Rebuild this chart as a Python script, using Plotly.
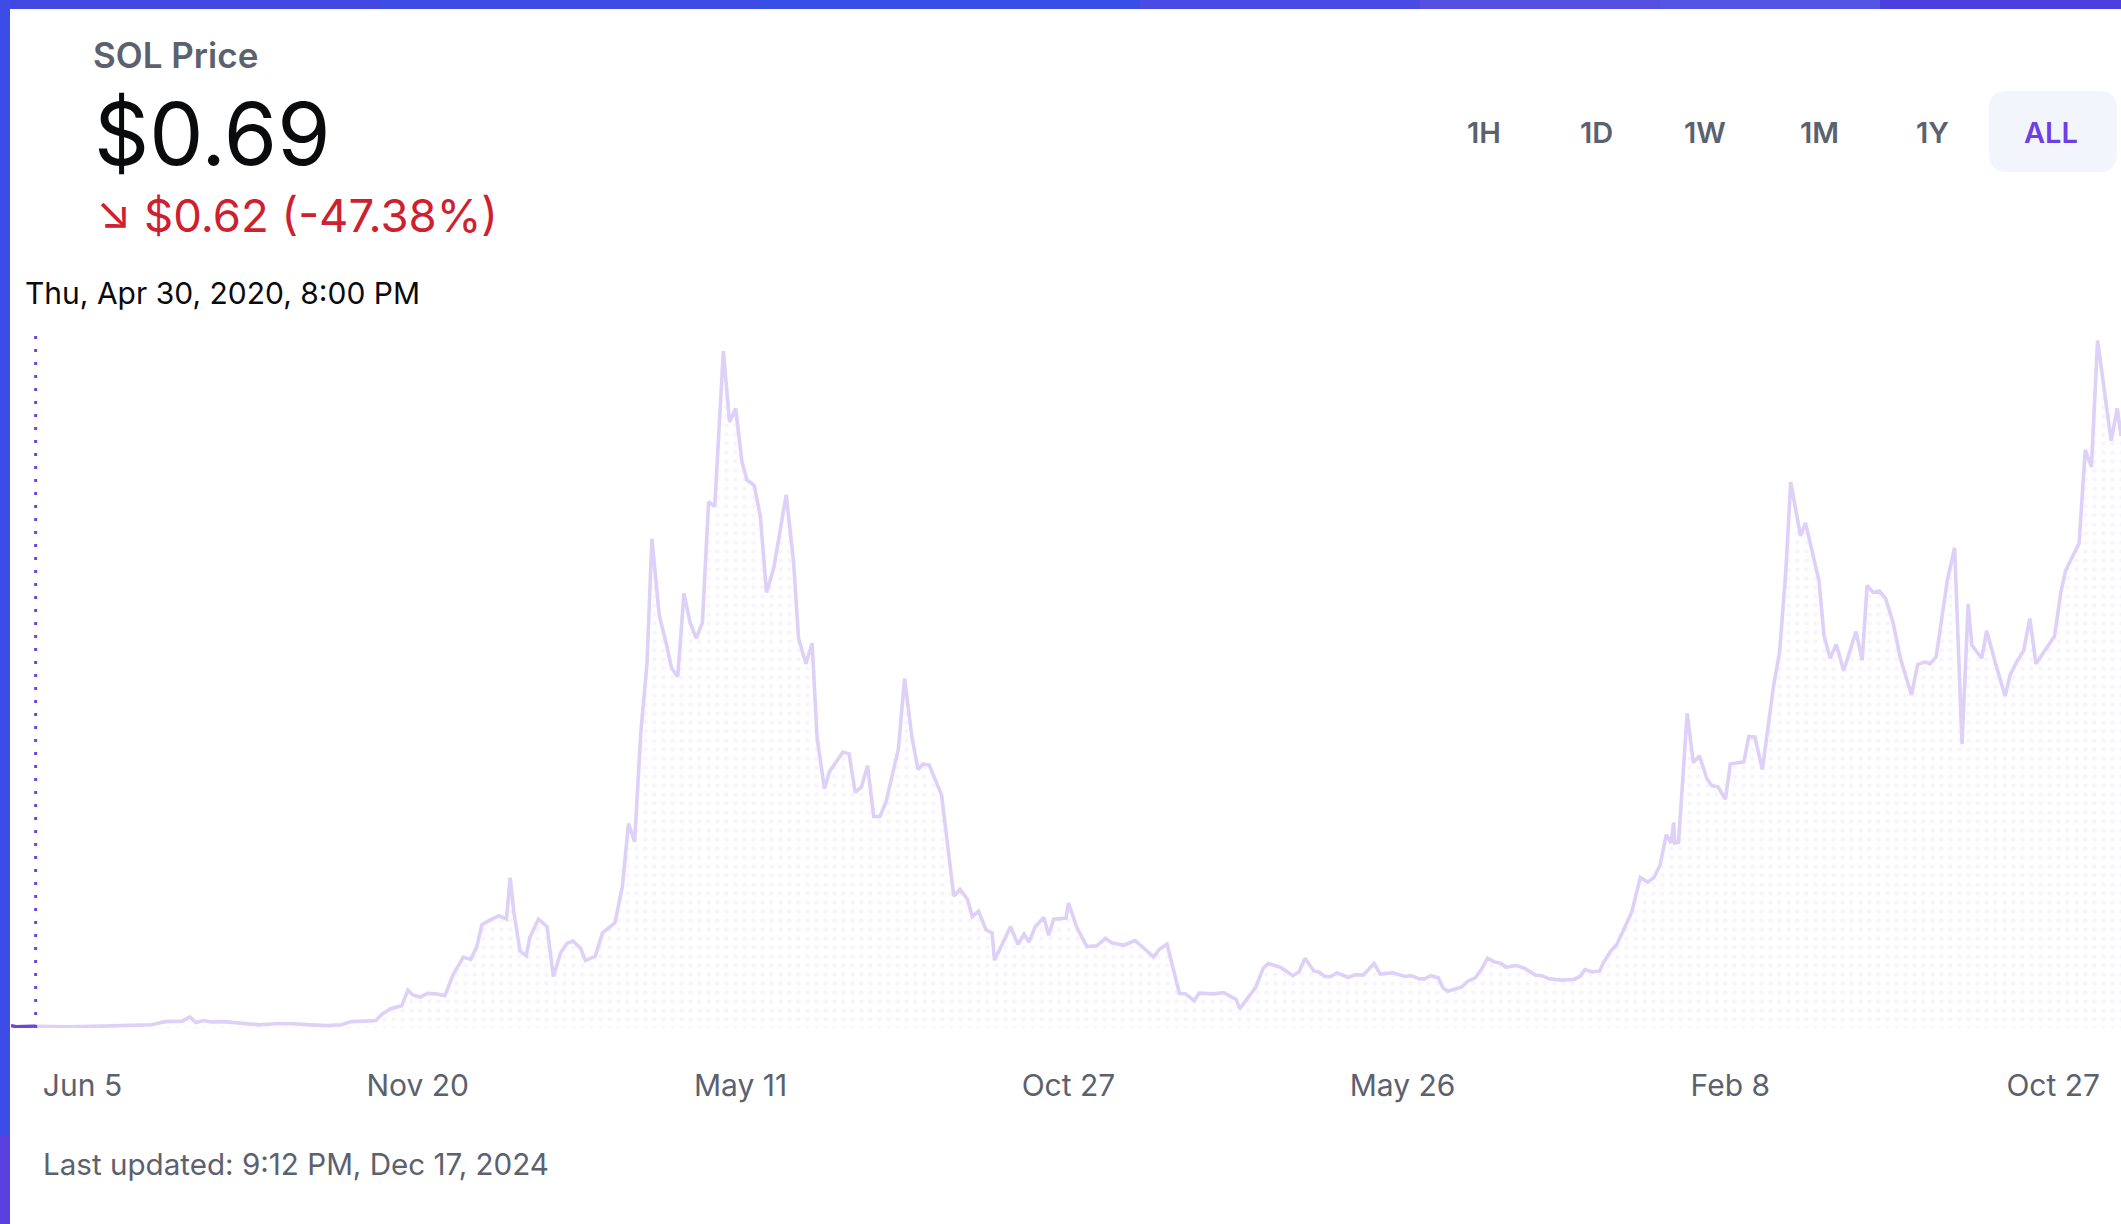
import pandas as pd
import plotly.graph_objects as go

# ---------------- data ----------------
launch_date = "2020-04-10"
end_date = "2024-12-17"
days_since_launch = [
    0, 4, 20, 47, 75, 103, 114, 125, 139, 145, 150, 156, 162, 173, 187, 201, 215, 229, 243, 257,
    268, 276, 287, 296, 301, 308, 317, 322, 326, 332, 338, 345, 352, 359, 367, 373, 378, 382, 388, 396,
    402, 405, 408, 413, 418, 421, 428, 435, 440, 446, 451, 456, 462, 466, 474, 480, 490, 496, 501, 506,
    511, 516, 520, 526, 532, 536, 541, 546, 551, 556, 561, 566, 571, 578, 583, 588, 593, 597, 603, 608,
    613, 619, 629, 635, 639, 645, 650, 654, 660, 664, 675, 680, 685, 690, 695, 700, 705, 710, 720, 725,
    731, 736, 740, 745, 755, 765, 770, 776, 780, 785, 791, 796, 798, 804, 811, 817, 822, 826, 831, 838,
    842, 846, 856, 858, 865, 873, 881, 888, 893, 903, 912, 920, 927, 932, 938, 948, 953, 960, 964, 976,
    984, 994, 997, 1004, 1010, 1016, 1020, 1030, 1040, 1045, 1050, 1057, 1061, 1066, 1071, 1076, 1085, 1091, 1097, 1106,
    1111, 1121, 1131, 1136, 1143, 1147, 1152, 1158, 1162, 1166, 1177, 1182, 1188, 1193, 1198, 1203, 1209, 1213, 1221, 1228,
    1237, 1242, 1248, 1258, 1268, 1273, 1277, 1283, 1289, 1292, 1298, 1303, 1309, 1315, 1322, 1328, 1333, 1338, 1343, 1347,
    1349, 1350, 1353, 1360, 1365, 1370, 1376, 1380, 1385, 1391, 1395, 1406, 1410, 1415, 1421, 1430, 1435, 1440, 1444, 1452,
    1456, 1461, 1467, 1471, 1476, 1481, 1487, 1497, 1502, 1506, 1511, 1516, 1521, 1527, 1533, 1542, 1547, 1553, 1557, 1562,
    1567, 1571, 1577, 1583, 1588, 1591, 1599, 1603, 1610, 1618, 1622, 1627, 1633, 1638, 1643, 1649, 1658, 1663, 1667, 1673,
    1678, 1683, 1688, 1693, 1698, 1704, 1709, 1712,
]
price_usd = [
    0.9, 0.5, 0.69, 0.5, 0.7, 0.9, 1.2, 2.4, 2.6, 4.2, 2.1, 2.8, 2.3, 2.4, 1.9, 1.2, 1.6, 1.6, 1.2, 0.9,
    1.2, 2.4, 2.6, 2.8, 5.2, 7.3, 8.4, 14.3, 12.5, 11.7, 13.1, 12.9, 12.2, 20.4, 26.8, 25.9, 30.8, 39.0, 40.7, 42.5,
    41.2, 56.9, 43.8, 29.1, 27.3, 34.3, 41.2, 38.3, 19.5, 28.5, 32.0, 32.9, 30.3, 25.6, 27.1, 36.0, 39.8, 53.4, 77.3, 70.5,
    111.7, 137.8, 185.1, 156.1, 144.8, 136.1, 132.9, 164.4, 153.5, 147.4, 153.5, 199.1, 197.3, 256.1, 229.3, 234.4, 214.4, 207.4, 205.3, 193.5,
    164.8, 174.3, 201.7, 176.1, 147.4, 137.8, 145.6, 110.0, 90.5, 96.9, 104.4, 103.7, 89.1, 91.2, 99.2, 80.0, 80.0, 85.6, 105.6, 132.2,
    110.0, 97.8, 99.9, 99.5, 88.2, 49.9, 52.5, 48.7, 42.1, 44.2, 37.2, 36.0, 25.6, 31.7, 38.3, 31.7, 35.5, 32.5, 38.3, 41.8,
    35.1, 41.2, 41.6, 47.3, 37.8, 30.8, 31.1, 33.9, 32.2, 31.3, 33.1, 29.9, 26.8, 29.9, 31.7, 13.1, 12.9, 10.3, 13.2, 12.9,
    13.4, 10.8, 7.3, 11.7, 15.5, 22.6, 24.4, 23.0, 19.8, 21.2, 26.4, 21.6, 21.2, 19.5, 19.5, 20.9, 19.1, 20.2, 20.0, 24.4,
    20.4, 20.9, 19.5, 19.8, 18.6, 18.6, 19.8, 19.0, 15.1, 13.9, 15.5, 17.7, 19.0, 22.1, 26.4, 25.1, 24.4, 23.0, 23.7, 22.6,
    20.0, 19.8, 18.6, 18.1, 18.4, 19.5, 22.1, 21.2, 21.6, 24.7, 29.1, 31.7, 37.8, 43.8, 56.9, 55.2, 56.9, 61.6, 73.1, 70.0,
    77.8, 70.0, 70.3, 119.0, 100.4, 103.0, 94.3, 91.7, 91.2, 86.5, 99.9, 100.7, 110.3, 110.0, 97.8, 129.1, 142.2, 172.6, 206.5, 186.2,
    191.1, 181.3, 169.1, 148.6, 139.9, 145.1, 135.2, 150.0, 139.2, 167.4, 164.8, 165.3, 162.5, 153.5, 139.9, 126.0, 137.5, 138.5, 137.8, 140.4,
    156.9, 169.1, 181.7, 107.4, 160.4, 144.8, 139.9, 150.3, 138.2, 125.6, 133.5, 138.2, 142.7, 154.9, 137.8, 142.2, 148.2, 164.3, 173.0, 178.7,
    183.4, 218.7, 212.3, 260.1, 242.2, 222.2, 234.4, 224.0,
]
hover_index = 2  # point under the cursor (Apr 30, 2020)
tick_dates = ["2020-06-07", "2021-03-06", "2021-11-23", "2022-08-16", "2023-05-14", "2024-02-04", "2024-10-23"]
tick_labels = ["Jun 5", "Nov 20", "May 11", "Oct 27", "May 26", "Feb 8", "Oct 27"]
range_buttons = ["1H", "1D", "1W", "1M", "1Y", "ALL"]
active_button = "ALL"
title_text = "SOL Price"
price_text = "$0.69"
change_text = "↘ $0.62 (-47.38%)"
hover_label = "Thu, Apr 30, 2020, 8:00 PM"
updated_text = "Last updated: 9:12 PM, Dec 17, 2024"

# ---------------- layout geometry (page pixels) ----------------
W, H = 2121, 1224
ML, MR, MT, MB = 11, 0, 331, 196
PW, PH = W - ML - MR, H - MT - MB
Y_MAX = 263.7


def px(x):
    return (x - ML) / PW


def py(y):
    return (H - MB - y) / PH


FONT = "Inter, Roboto, sans-serif"
GRAY = "#5b616e"
LINE = "#ddd1f7"
DARK = "#6c45d9"

dates = pd.Timestamp(launch_date) + pd.to_timedelta(days_since_launch, unit="D")

fig = go.Figure()
fig.add_trace(go.Scatter(
    x=dates, y=price_usd, mode="lines",
    line=dict(color=LINE, width=3.6),
    fill="tozeroy", fillcolor="rgba(255,255,255,0)",
    fillpattern=dict(shape=".", fgcolor="#f0eafb", bgcolor="rgba(255,255,255,0)",
                     size=9, solidity=0.2),
    hoverinfo="skip", showlegend=False,
))
fig.add_trace(go.Scatter(
    x=dates[:hover_index + 1], y=price_usd[:hover_index + 1], mode="lines",
    line=dict(color=DARK, width=3.2), hoverinfo="skip", showlegend=False,
))

shapes = []
# hover crosshair
shapes.append(dict(type="line", xref="x", yref="paper", x0=dates[hover_index], x1=dates[hover_index],
                   y0=0, y1=1, line=dict(color=DARK, width=3, dash="3px,10px")))
# frame: top band and left band
top_segments = [(0, 380, "#4448e2"), (380, 760, "#3e4be5"), (760, 1140, "#384ee7"),
                (1140, 1420, "#4a4ae4"), (1420, 1660, "#5650e2"), (1660, 1880, "#5456e3"),
                (1880, 2121, "#4b40de")]
for a, b, c in top_segments:
    shapes.append(dict(type="rect", xref="paper", yref="paper", x0=px(a), x1=px(b),
                       y0=py(9), y1=py(0), line=dict(width=0), fillcolor=c, layer="above"))
shapes.append(dict(type="rect", xref="paper", yref="paper", x0=px(0), x1=px(10),
                   y0=py(1135), y1=py(0), line=dict(width=0), fillcolor="#3c4de7", layer="above"))
shapes.append(dict(type="rect", xref="paper", yref="paper", x0=px(0), x1=px(10),
                   y0=py(1224), y1=py(1135), line=dict(width=0), fillcolor="#5a40df", layer="above"))

# rounded background of the active range button
bx0, bx1, by0, by1, r = 1989, 2117, 91, 172, 18


def P(x, y):
    return f"{px(x):.5f},{py(y):.5f}"


path = (f"M {P(bx0 + r, by0)} L {P(bx1 - r, by0)} Q {P(bx1, by0)} {P(bx1, by0 + r)} "
        f"L {P(bx1, by1 - r)} Q {P(bx1, by1)} {P(bx1 - r, by1)} L {P(bx0 + r, by1)} "
        f"Q {P(bx0, by1)} {P(bx0, by1 - r)} L {P(bx0, by0 + r)} Q {P(bx0, by0)} {P(bx0 + r, by0)} Z")
shapes.append(dict(type="path", xref="paper", yref="paper", path=path,
                   line=dict(width=0), fillcolor="#f3f5fc", layer="below"))

annotations = []


def text(t, x, y, size, color, weight=400, anchor="left"):
    annotations.append(dict(text=t, x=px(x), y=py(y), xref="paper", yref="paper",
                            xanchor=anchor, yanchor="middle", showarrow=False,
                            font=dict(family=FONT, size=size, color=color, weight=weight)))


text(title_text, 91, 55, 35, GRAY, 600)
text(price_text, 92, 134, 86, "#0a0b0d", 400)
text(change_text, 94, 216, 45.5, "#cf202f", 400)
text(hover_label, 23, 293, 30, "#0a0b0d", 400)
text(updated_text, 41, 1164, 29.6, GRAY, 400)

button_centers = [1484, 1596, 1705, 1819, 1932, 2051]
for lab, cx in zip(range_buttons, button_centers):
    text(lab, cx, 133, 29, "#6e3fe3" if lab == active_button else GRAY, 600, anchor="center")

fig.update_layout(
    width=W, height=H,
    margin=dict(l=ML, r=MR, t=MT, b=MB),
    paper_bgcolor="white", plot_bgcolor="white",
    shapes=shapes, annotations=annotations,
    showlegend=False,
    xaxis=dict(type="date", range=[pd.Timestamp(launch_date), pd.Timestamp(end_date)],
               tickmode="array", tickvals=tick_dates, ticktext=tick_labels,
               showgrid=False, zeroline=False, showline=False, ticks="",
               tickfont=dict(family=FONT, size=30, color=GRAY),
               ticklabelstandoff=37, fixedrange=True),
    yaxis=dict(range=[0, Y_MAX], visible=False, fixedrange=True),
)

fig.write_html("out.html", config={"displayModeBar": False},
               post_script="document.body.style.margin='0';document.body.style.overflow='hidden';")
